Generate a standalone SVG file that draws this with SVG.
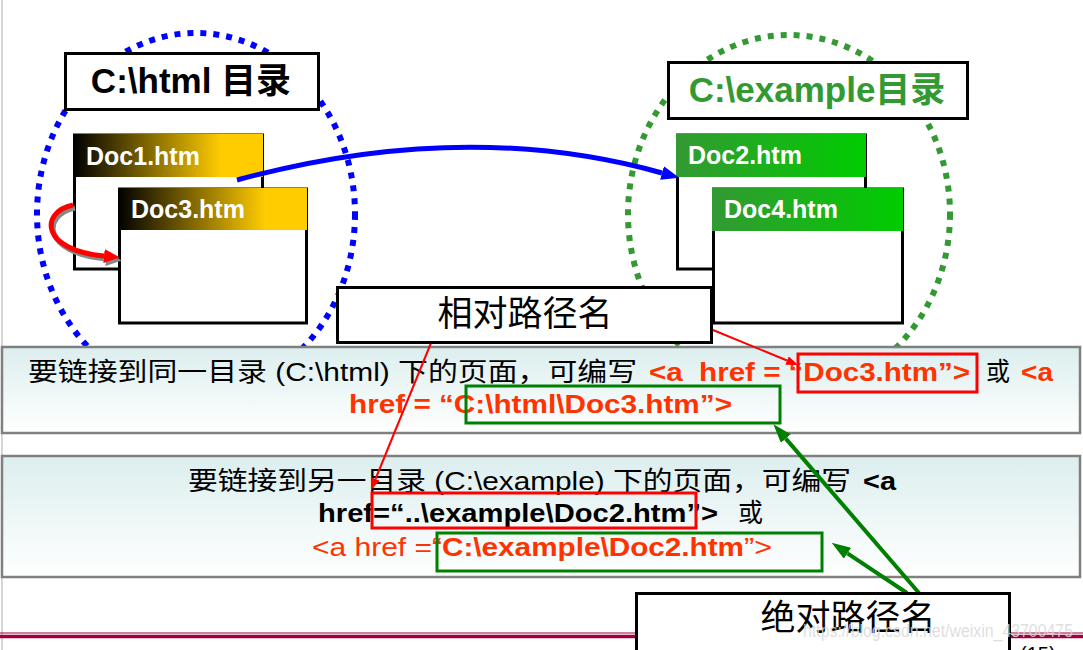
<svg xmlns="http://www.w3.org/2000/svg" width="1083" height="650" viewBox="0 0 1083 650">
<defs>
<style>
text{font-family:"Liberation Sans","Noto Sans CJK SC",sans-serif;}
.box{fill:#fff;stroke:#000;stroke-width:3;}
.doc{fill:#fff;stroke:#000;stroke-width:3;}
.docl{font-size:25px;font-weight:bold;fill:#fff;}
.ttl{font-size:35px;font-weight:bold;text-anchor:middle;}
.lbl{font-size:35px;text-anchor:middle;fill:#000;}
.pan{fill:url(#panG);stroke:#808080;stroke-width:2.5;}
.pt{font-size:26px;white-space:pre;}
.blk{fill:#000;}
.red{fill:#FF3300;}
.b{font-weight:bold;}
.rbox{fill:none;stroke:#FF0000;stroke-width:3;}
.gbox{fill:none;stroke:#008000;stroke-width:3;}
</style>
<linearGradient id="goldG" x1="0" y1="0" x2="1" y2="0">
<stop offset="0" stop-color="#000000"/>
<stop offset="0.78" stop-color="#FFCC00"/>
<stop offset="1" stop-color="#FFCC00"/>
</linearGradient>
<linearGradient id="greenG" x1="0" y1="0" x2="1" y2="0">
<stop offset="0" stop-color="#339933"/>
<stop offset="1" stop-color="#00CC00"/>
</linearGradient>
<linearGradient id="panG" x1="0" y1="0" x2="0" y2="1">
<stop offset="0" stop-color="#DCEEEE"/>
<stop offset="1" stop-color="#FFFFFF"/>
</linearGradient>
<marker id="aBlue" markerUnits="userSpaceOnUse" markerWidth="18" markerHeight="14" refX="0" refY="7" orient="auto">
<path d="M0,0 L18,7 L0,14 z" fill="#0000FF"/>
</marker>
<marker id="aRed" markerUnits="userSpaceOnUse" markerWidth="16" markerHeight="14" refX="0" refY="7" orient="auto">
<path d="M0,0 L16,7 L0,14 z" fill="#FF0000"/>
</marker>
<marker id="aGray" markerUnits="userSpaceOnUse" markerWidth="16" markerHeight="14" refX="0" refY="7" orient="auto">
<path d="M0,0 L16,7 L0,14 z" fill="#888888"/>
</marker>
<marker id="aRedS" markerUnits="userSpaceOnUse" markerWidth="12" markerHeight="9" refX="0" refY="4.5" orient="auto">
<path d="M0,0 L12,4.5 L0,9 z" fill="#FF0000"/>
</marker>
<marker id="aGreen" markerUnits="userSpaceOnUse" markerWidth="19" markerHeight="13" refX="0" refY="6.5" orient="auto">
<path d="M0,0 L19,6.5 L0,13 z" fill="#008000"/>
</marker>
</defs>

<rect x="0" y="0" width="1083" height="650" fill="#ffffff"/>
<line x1="2" y1="0" x2="2" y2="650" stroke="#C8C8C8" stroke-width="1.5"/>

<!-- bottom decoration -->
<line x1="0" y1="633" x2="1083" y2="633" stroke="#A0003C" stroke-width="1"/>
<line x1="0" y1="636.5" x2="1083" y2="636.5" stroke="#A0003C" stroke-width="3.5"/>
<text x="1020" y="661" font-size="20" fill="#000">(15)</text>

<!-- directory circles -->
<ellipse id="htmlDirCircle" cx="196" cy="214" rx="159" ry="181" fill="none" stroke="#0000FF" stroke-width="6" stroke-dasharray="6 7"/>
<ellipse id="exampleDirCircle" cx="789" cy="214" rx="161" ry="179" fill="none" stroke="#339933" stroke-width="6" stroke-dasharray="6 7"/>

<g id="htmlTitle">
<rect class="box" x="65.5" y="53.5" width="253" height="56"/>
<text class="ttl" x="191" y="93" fill="#000">C:\html 目录</text>
</g>
<g id="exampleTitle">
<rect class="box" x="668.5" y="62.5" width="299" height="56"/>
<text class="ttl" x="817" y="102" fill="#339933">C:\example目录</text>
</g>

<g id="doc1">
<rect class="doc" x="74.5" y="135" width="188" height="134"/>
<rect x="73" y="134" width="190" height="43" fill="url(#goldG)"/>
<text class="docl" x="86" y="165">Doc1.htm</text>
</g>
<g id="doc3">
<rect class="doc" x="119.5" y="189" width="187" height="134"/>
<rect x="118" y="188" width="189" height="42" fill="url(#goldG)"/>
<text class="docl" x="131" y="218">Doc3.htm</text>
</g>
<g id="doc2">
<rect class="doc" x="677.5" y="135" width="188" height="134"/>
<rect x="676" y="134" width="190" height="43" fill="url(#greenG)"/>
<text class="docl" x="688" y="164">Doc2.htm</text>
</g>
<g id="doc4">
<rect class="doc" x="713.5" y="189" width="189" height="134"/>
<rect x="712" y="188" width="191" height="43" fill="url(#greenG)"/>
<text class="docl" x="724" y="218">Doc4.htm</text>
</g>

<!-- panels -->
<g id="panel1">
<rect class="pan" x="2" y="347" width="1078" height="86"/>
<text class="pt blk" x="28" y="381" textLength="609" lengthAdjust="spacingAndGlyphs">要链接到同一目录 (C:\html) 下的页面，可编写</text>
<text class="pt red b" x="649" y="381" textLength="321" lengthAdjust="spacingAndGlyphs">&lt;a  href = “Doc3.htm”&gt;</text>
<text class="pt blk" x="986" y="381" textLength="24" lengthAdjust="spacingAndGlyphs">或</text>
<text class="pt red b" x="1021" y="381" textLength="32" lengthAdjust="spacingAndGlyphs">&lt;a</text>
<text class="pt red b" x="349" y="413" textLength="383" lengthAdjust="spacingAndGlyphs">href = “C:\html\Doc3.htm”&gt;</text>
<rect class="rbox" x="798" y="354" width="179" height="38"/>
<rect class="gbox" x="466" y="386" width="314" height="37"/>
</g>
<g id="panel2">
<rect class="pan" x="2" y="456" width="1078" height="121"/>
<text class="pt blk" x="188" y="490" textLength="663" lengthAdjust="spacingAndGlyphs">要链接到另一目录 (C:\example) 下的页面，可编写</text>
<text class="pt blk b" x="863" y="490" textLength="33" lengthAdjust="spacingAndGlyphs">&lt;a</text>
<text class="pt blk b" x="318" y="522" textLength="400" lengthAdjust="spacingAndGlyphs">href=“..\example\Doc2.htm”&gt;</text>
<text class="pt blk" x="738" y="522" textLength="25" lengthAdjust="spacingAndGlyphs">或</text>
<text class="pt red" x="312" y="556" textLength="130" lengthAdjust="spacingAndGlyphs">&lt;a href =“</text>
<text class="pt red b" x="442" y="556" textLength="302" lengthAdjust="spacingAndGlyphs">C:\example\Doc2.htm</text>
<text class="pt red" x="744" y="556" textLength="28" lengthAdjust="spacingAndGlyphs">”&gt;</text>
<rect class="rbox" x="372" y="493" width="324" height="35"/>
<rect class="gbox" x="437" y="533" width="385" height="38"/>
</g>

<!-- connectors -->
<g id="connectors">
<path d="M237,180 Q465,118 662,173" fill="none" stroke="#0000FF" stroke-width="5" marker-end="url(#aBlue)"/>
<path d="M75,208 C42,215 42,253 106,259" fill="none" stroke="#888888" stroke-width="5" marker-end="url(#aGray)"/>
<path d="M73,205 C40,212 40,250 104,256" fill="none" stroke="#FF0000" stroke-width="5" marker-end="url(#aRed)"/>
<line x1="713" y1="330" x2="787" y2="360.5" stroke="#FF0000" stroke-width="2" marker-end="url(#aRedS)"/>
<line x1="431" y1="343" x2="375.5" y2="479" stroke="#FF0000" stroke-width="2" marker-end="url(#aRedS)"/>
<line x1="919" y1="593" x2="785.8" y2="438.6" stroke="#008000" stroke-width="4" marker-end="url(#aGreen)"/>
<line x1="907" y1="593" x2="847.5" y2="553.3" stroke="#008000" stroke-width="4" marker-end="url(#aGreen)"/>
</g>

<g id="relativeLabel">
<rect class="box" x="337.5" y="287.5" width="374" height="55"/>
<text class="lbl" x="525" y="326">相对路径名</text>
</g>
<g id="absoluteLabel">
<rect class="box" x="636.5" y="593.5" width="373" height="60"/>
<text class="lbl" x="848" y="630">绝对路径名</text>
</g>

<text x="803" y="637" font-size="18" fill="#D8D8D8" fill-opacity="0.85" textLength="270" lengthAdjust="spacingAndGlyphs">https://blog.csdn.net/weixin_43700475</text>
</svg>
